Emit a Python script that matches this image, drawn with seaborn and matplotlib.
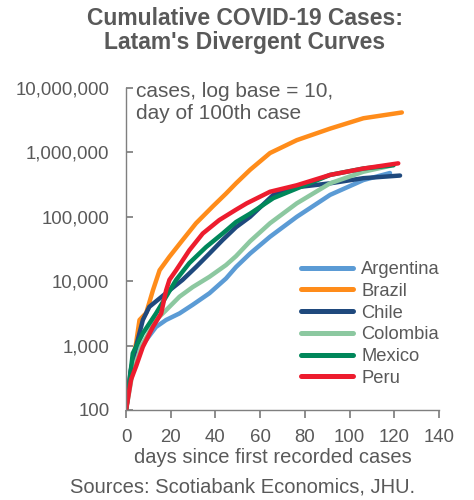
import numpy as np
import pandas as pd
import matplotlib
matplotlib.use("Agg")
import matplotlib.pyplot as plt
import matplotlib.ticker as mticker
import seaborn as sns

countries = ["Argentina", "Brazil", "Chile", "Colombia", "Mexico", "Peru"]
colors = ["#5B9BD5", "#FF8C1A", "#1F497D", "#8CC8A0", "#00875A", "#ED1C2E"]

arg_days = [0, 2, 6, 13.4, 17.9, 23.9, 29.8, 37.3, 44.7, 49.2, 55.5, 64.4, 76.4, 91.3, 106.2, 118.1]
arg_cases = [100, 355, 890, 1950, 2500, 3160, 4300, 6500, 11000, 16600, 26900, 49000,
             100000, 219000, 372000, 479000]

bra_days = [0, 3, 4.5, 6, 9, 12, 15, 19.4, 25.3, 31.3, 38.8, 44.7, 49.2, 55.5, 64.4, 76.4,
            91.3, 106.2, 123.4]
bra_cases = [100, 600, 1100, 2500, 3200, 7200, 14800, 24000, 43600, 79400, 145000, 229000,
             331000, 537000, 977000, 1550000, 2340000, 3390000, 4170000]

chi_days = [0, 2, 4.5, 7.5, 10.4, 15, 19.4, 25.3, 31.3, 37.3, 43.2, 49.2, 55.5, 65.9, 76.4,
            91.3, 106.2, 122.6]
chi_cases = [100, 400, 980, 2500, 4000, 5400, 7200, 10500, 16600, 26900, 43600, 69000,
             100000, 219000, 288000, 331000, 398000, 437000]

col_days = [0, 3, 7, 13.4, 17.9, 23.9, 29.8, 37.3, 44.7, 49.2, 55.5, 64.4, 76.4, 91.3, 106.2, 118.1]
col_cases = [100, 400, 1000, 2500, 3550, 5750, 8100, 11700, 17800, 24500, 41700, 79400,
             162000, 331000, 501000, 617000]

mex_days = [0, 3, 7.5, 13.4, 17.9, 22.4, 28.3, 35.8, 43.2, 49.2, 55.5, 65.9, 76.4, 91.3, 106.2, 119.7]
mex_cases = [100, 760, 1550, 3160, 5750, 10500, 19100, 33900, 55000, 83000, 112000, 195000,
             275000, 447000, 562000, 631000]

per_days = [0, 2.2, 4.5, 7.5, 12, 15.7, 17.9, 19.4, 22.4, 28.3, 34.3, 41.7, 49.2, 54, 64.4,
            76.4, 91.3, 106.2, 121.8]
per_cases = [100, 295, 480, 955, 1950, 3160, 7200, 10500, 14800, 30200, 55000, 89000,
             129000, 162000, 245000, 309000, 447000, 562000, 676000]

y_ticks = [100, 1000, 10000, 100000, 1000000, 10000000]
x_ticks = [0, 20, 40, 60, 80, 100, 120, 140]

series = {
    "Argentina": (arg_days, arg_cases),
    "Brazil": (bra_days, bra_cases),
    "Chile": (chi_days, chi_cases),
    "Colombia": (col_days, col_cases),
    "Mexico": (mex_days, mex_cases),
    "Peru": (per_days, per_cases),
}
frames = []
for c in countries:
    d, v = series[c]
    frames.append(pd.DataFrame({"day": d, "cases": v, "country": c}))
df = pd.concat(frames, ignore_index=True)

sns.set_theme(style="white")
plt.rcParams["font.family"] = ["Liberation Sans", "DejaVu Sans"]
gray = "#595959"

fig = plt.figure(figsize=(4.74, 5.0), dpi=100)
ax = fig.add_axes([0.266, 0.18, 0.66, 0.644])

sns.lineplot(data=df, x="day", y="cases", hue="country", hue_order=countries,
             palette=dict(zip(countries, colors)), estimator=None, sort=False,
             linewidth=3.2, ax=ax)

ax.set_yscale("log")
ax.set_ylim(100, 10000000)
ax.set_xlim(0, 140)
ax.set_yticks(y_ticks)
ax.yaxis.set_major_formatter(mticker.FuncFormatter(lambda v, p: f"{int(round(v)):,}"))
ax.yaxis.set_minor_locator(mticker.NullLocator())
ax.set_xticks(x_ticks)

for s in ["top", "right"]:
    ax.spines[s].set_visible(False)
for s in ["left", "bottom"]:
    ax.spines[s].set_color("#7f7f7f")
    ax.spines[s].set_linewidth(1.0)

ax.tick_params(axis="y", direction="in", length=5, color="#7f7f7f", labelsize=13.4,
               labelcolor=gray, pad=12, left=True)
ax.tick_params(axis="x", direction="out", length=6, color="#7f7f7f", labelsize=13.4,
               labelcolor=gray, pad=7.5, bottom=True)

ax.set_xlabel("days since first recorded cases", fontsize=14.5, color=gray)
ax.xaxis.set_label_coords(0.47, -0.118)
ax.set_ylabel("")

fig.text(136 / 474, 1 - 82 / 500, "cases, log base = 10,\nday of 100th case",
         ha="left", va="top", fontsize=15, color=gray, linespacing=1.22)

leg = ax.legend(loc="upper left", bbox_to_anchor=(301 / 474, 1 - 261 / 500),
                bbox_transform=fig.transFigure, frameon=False,
                fontsize=13.2, handlelength=2.84, handletextpad=0.44, labelspacing=0.26,
                borderaxespad=0, borderpad=0)
for t in leg.get_texts():
    t.set_color(gray)
for l in leg.get_lines():
    l.set_linewidth(3.6)

fig.text(0.516, 0.986, "Cumulative COVID-19 Cases:\nLatam's Divergent Curves", ha="center",
         va="top", fontsize=16.5, fontweight="bold", color=gray, linespacing=1.08)
fig.text(0.511, 0.026, "Sources: Scotiabank Economics, JHU.", ha="center", va="center",
         fontsize=14.5, color=gray)

fig.savefig("out.png", dpi=100, facecolor="white")
